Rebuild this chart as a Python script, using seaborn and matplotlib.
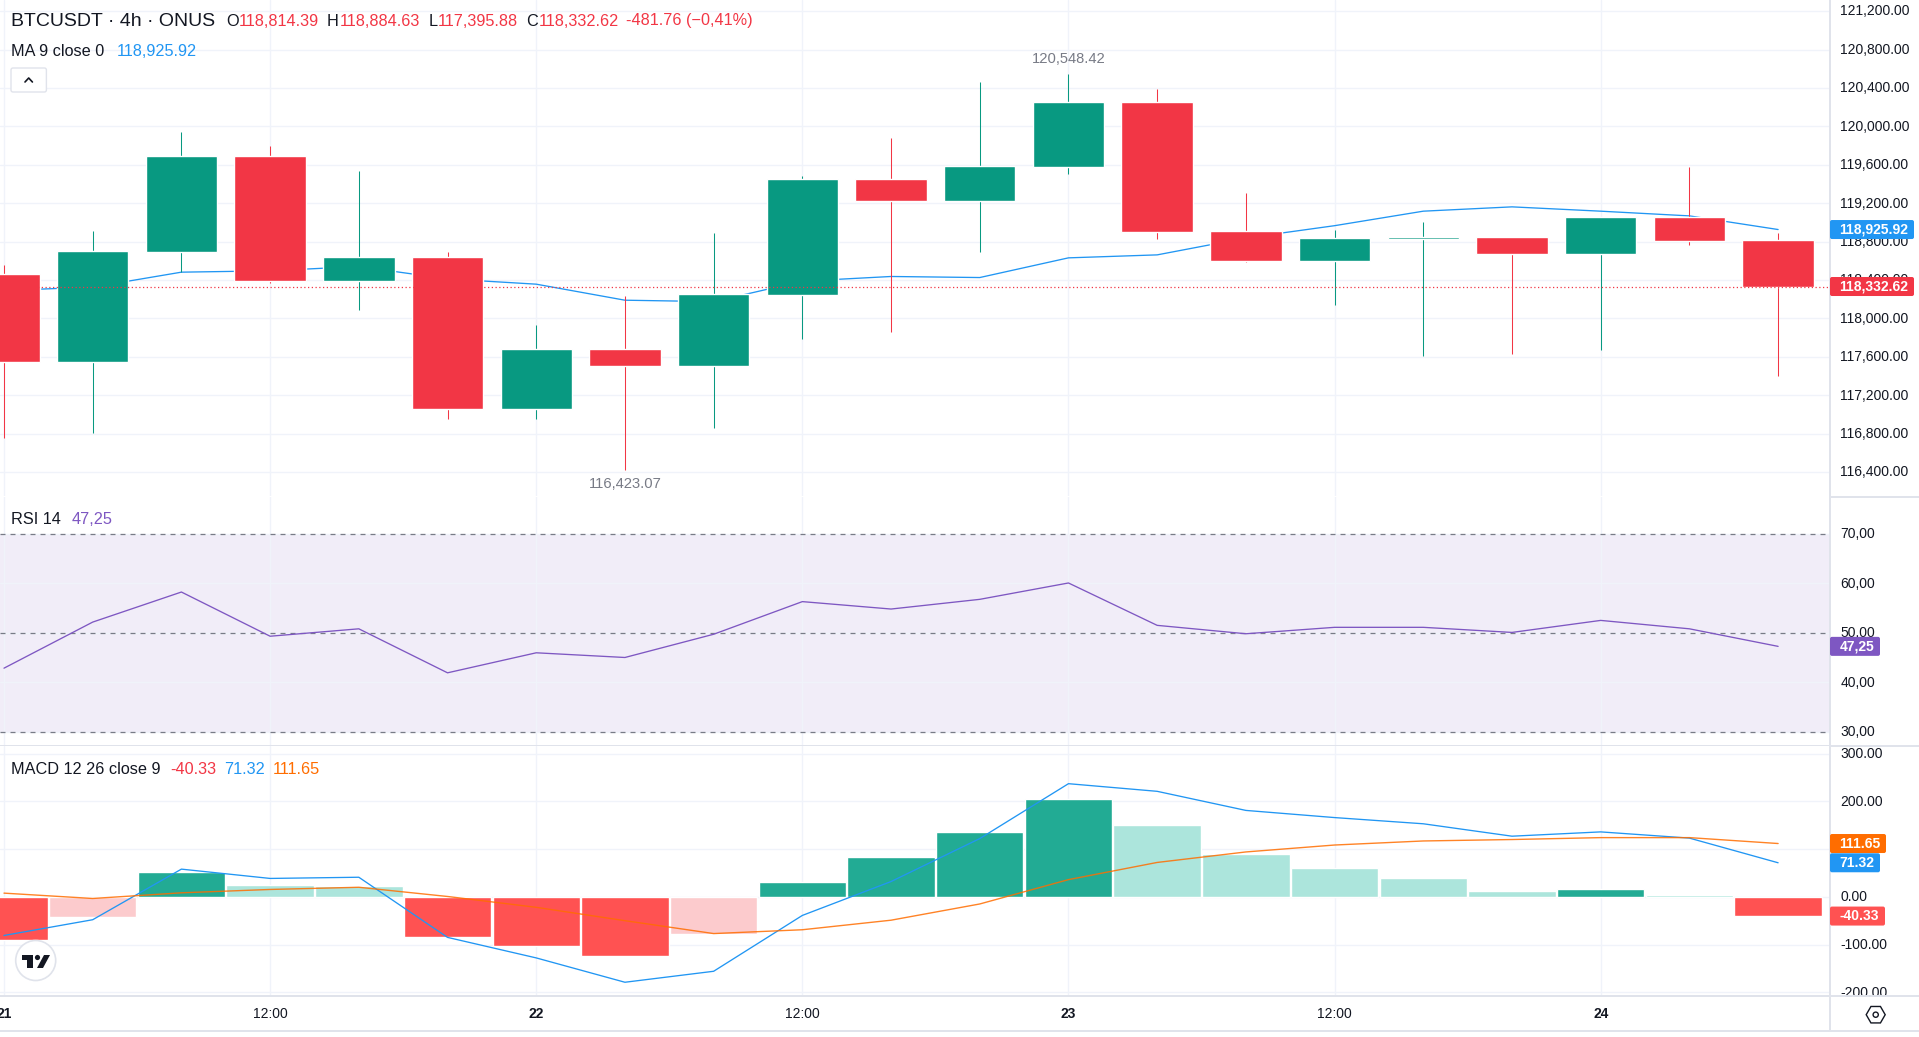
"""
BTCUSDT 4h chart with MA, RSI and MACD panels.
"""

import numpy as np
import seaborn as sns
import matplotlib
matplotlib.use('Agg')
import matplotlib.pyplot as plt
from matplotlib.patches import Circle, FancyBboxPatch, Polygon, Rectangle, RegularPolygon
from matplotlib.transforms import ScaledTranslation

# candles
opens = [118464, 117551, 118697, 119693, 118395, 118641, 117052, 117684, 117500, 118249, 119454,
         119218, 119582, 120256, 118912, 118603, 118826, 118850, 118673, 119058, 118814.39]
closes = [117551, 118704, 119693, 118395, 118641, 117052, 117684, 117500, 118256, 119454, 119218,
          119589, 120256, 118905, 118603, 118839, 118853, 118673, 119058, 118808, 118332.62]
highs = [118558, 118912, 119943, 119794, 119537, 118690, 117933, 118232, 118891, 119481, 119881,
         120464, 120548.42, 120391, 119308, 118923, 119006, 118850, 119058, 119579, 118884.63]
lows = [116760, 116812, 118482, 118374, 118083, 116958, 116958, 116423.07, 116857, 117791, 117854,
        118687, 119509, 118832, 118593, 118145, 117604, 117635, 117673, 118770, 117395.88]
ma_line = [118291, 118326, 118482, 118496, 118541, 118412, 118357, 118190, 118175, 118388, 118437,
           118426, 118631, 118662, 118838, 118966, 119117, 119162, 119117, 119068, 118925.92]

rsi_line = [42.84, 52.16, 58.24, 49.3, 50.8, 41.9, 45.95, 45.0, 49.7, 56.3, 54.8,
            56.76, 60.07, 51.5, 49.8, 51.1, 51.1, 50.07, 52.5, 50.8, 47.25]

macd_hist = [-89.6, -43, 51, 25.5, 23.5, -83.3, -104, -123, -78, 30.8, 83,
             135, 204, 150, 89, 59.5, 38.5, 11.9, 16, 2.8, -40.33]
macd_line = [-81, -48, 58, 38.5, 41, -85, -128, -179, -156, -39, 32,
             122, 237, 221, 181, 166, 153, 127, 136, 123, 71.32]
signal_line = [7.7, -3.5, 8.4, 15.4, 20, 0.7, -22, -50, -77, -69, -49,
               -15, 36, 72, 94, 108.5, 117, 120, 124, 124, 111.65]

time_ticks = [0, 3, 6, 9, 12, 15, 18]
time_labels = ['21', '12:00', '22', '12:00', '23', '12:00', '24']
day_labels = ['21', '22', '23', '24']

price_ticks = [116400, 116800, 117200, 117600, 118000, 118400, 118800,
               119200, 119600, 120000, 120400, 120800, 121200]
rsi_ticks = [30, 40, 50, 60, 70]
macd_ticks = [-200, -100, 0, 100, 200, 300]

GREEN = '#089981'
RED = '#F23645'
BLUE = '#2196F3'
PURPLE = '#7E57C2'
ORANGE = '#FF6D00'
INK = '#131722'
GRID = '#F0F3FA'
BORDER = '#E0E3EB'
GRAY = '#787B86'
W, H = 1919, 1037
FONT = 'Liberation Sans'

sns.set_theme(style='white')
plt.rcParams['font.family'] = [FONT, 'DejaVu Sans']

fig = plt.figure(figsize=(W / 100, H / 100), dpi=100, facecolor='white')


def panel(top, bottom, ylim, ticks, labels):
    ax = fig.add_axes([0, 1 - bottom / H, 1830 / W, (bottom - top) / H])
    ax.set_xlim(-0.045, 20.585)
    ax.set_ylim(*ylim)
    ax.yaxis.tick_right()
    ax.set_yticks(ticks, labels)
    ax.set_xticks(time_ticks)
    ax.tick_params(axis='both', length=0, labelsize=10, labelcolor=INK)
    ax.tick_params(axis='y', pad=7.3)
    ax.tick_params(axis='x', labelbottom=False)
    ax.grid(True, color=GRID, linewidth=1)
    ax.set_axisbelow(True)
    for side in ['top', 'left']:
        ax.spines[side].set_visible(False)
    for side in ['right', 'bottom']:
        ax.spines[side].set_color(BORDER)
        ax.spines[side].set_linewidth(1.4)
    # the labels sit a little above their grid lines
    lift = ScaledTranslation(0, 1.2 / 100, fig.dpi_scale_trans)
    for lab in ax.get_yticklabels():
        lab.set_transform(lab.get_transform() + lift)
    return ax


ax1 = panel(0, 496.5, (116146, 121316), price_ticks, ['{0:,.2f}'.format(v) for v in price_ticks])
ax2 = panel(496.5, 745.5, (27.2, 77.56), rsi_ticks, ['{0:.2f}'.format(v).replace('.', ',') for v in rsi_ticks])
ax3 = panel(745.5, 996, (-207.8, 317), macd_ticks, ['{0:.2f}'.format(v) for v in macd_ticks])

idx = np.arange(len(closes))

# price panel
sns.lineplot(x=idx, y=ma_line, ax=ax1, color=BLUE, linewidth=0.95, zorder=2)
colors = [GREEN if c >= o else RED for o, c in zip(opens, closes)]
ax1.vlines(idx, lows, highs, colors=colors, linewidth=0.75, zorder=3)
ax1.bar(idx, np.array(closes) - np.array(opens), bottom=opens, width=0.805, color=colors, zorder=4)
ax1.axhline(closes[-1], color=RED, linestyle=(0, (1, 2)), linewidth=0.9, zorder=5)
ax1.annotate('{0:,.2f}'.format(min(lows)), (int(np.argmin(lows)), min(lows)), xytext=(0, -7),
             textcoords='offset pixels', ha='center', va='top', color=GRAY, fontsize=10.6)
ax1.annotate('{0:,.2f}'.format(max(highs)), (int(np.argmax(highs)), max(highs)), xytext=(0, 8),
             textcoords='offset pixels', ha='center', va='bottom', color=GRAY, fontsize=10.6)

# rsi panel
ax2.axhspan(30, 70, color=PURPLE, alpha=0.1, linewidth=0, zorder=0.5)
for level in [30, 50, 70]:
    ax2.axhline(level, color=GRAY, linestyle=(0, (4, 4)), linewidth=0.9, zorder=2)
sns.lineplot(x=idx, y=rsi_line, ax=ax2, color=PURPLE, linewidth=0.95, zorder=3)

# macd panel
hist_colors = []
for i, v in enumerate(macd_hist):
    prev = macd_hist[i - 1] if i > 0 else v
    if v >= 0:
        hist_colors.append('#22AB94' if v >= prev else '#ACE5DC')
    else:
        hist_colors.append('#FF5252' if v <= prev else '#FCCBCD')
ax3.bar(idx, macd_hist, width=0.985, color=hist_colors, zorder=2)
sns.lineplot(x=idx, y=macd_line, ax=ax3, color=BLUE, linewidth=0.95, zorder=3)
sns.lineplot(x=idx, y=signal_line, ax=ax3, color=ORANGE, linewidth=1.0, alpha=0.85, zorder=4)

ax3.tick_params(axis='x', labelbottom=True, pad=8)
ax3.set_xticks(time_ticks, time_labels)
for lab in ax3.get_xticklabels():
    if lab.get_text() in day_labels:
        lab.set_fontweight('bold')

# overlay in pixels for legends, value tags and small icons
ov = fig.add_axes([0, 0, 1, 1], facecolor='none')
ov.set_xlim(0, W)
ov.set_ylim(H, 0)
ov.axis('off')


def label(x, y, text, color=INK, size=11.7, **kw):
    ov.text(x, y, text, color=color, fontsize=size, va='center', ha='left', **kw)


def tag(ax, value, text, color, width):
    y = H - ax.transData.transform((0, value))[1]
    ov.add_patch(FancyBboxPatch((1830, y - 9.5), width, 19, boxstyle='round,pad=0,rounding_size=2',
                                facecolor=color, edgecolor='none', zorder=5))
    ov.text(1839.5, y, text, color='white', fontsize=10, fontweight='bold', va='center', ha='left', zorder=6)


label(11, 21, 'BTCUSDT · 4h · ONUS', size=14)
for x, letter, vx, val in [(226.5, 'O', 239, '118,814.39'), (327, 'H', 340, '118,884.63'),
                           (428.6, 'L', 438, '117,395.88'), (526.5, 'C', 539, '118,332.62')]:
    label(x, 21, letter)
    label(vx, 21, val, color=RED)
label(626.5, 21, '-481.76 (−0,41%)', color=RED)
label(11, 51.5, 'MA 9 close 0')
label(116.3, 51.5, '118,925.92', color=BLUE)
label(11, 519, 'RSI 14')
label(71.6, 519, '47,25', color=PURPLE)
label(11, 769, 'MACD 12 26 close 9')
label(170.5, 769, '-40.33', color=RED)
label(224, 769, '71.32', color=BLUE)
label(273, 769, '111.65', color=ORANGE)

# collapse button
ov.add_patch(FancyBboxPatch((11, 68), 35.4, 24, boxstyle='round,pad=0,rounding_size=2',
                            facecolor='white', edgecolor=BORDER, linewidth=1))
ov.plot([25, 28.7, 32.4], [82, 78, 82], color=INK, linewidth=1.2)

tag(ax1, ma_line[-1], '118,925.92', BLUE, 84)
tag(ax1, closes[-1], '118,332.62', RED, 84)
tag(ax2, rsi_line[-1], '47,25', PURPLE, 50)
tag(ax3, signal_line[-1], '111.65', ORANGE, 56)
tag(ax3, macd_line[-1], '71.32', BLUE, 50)
tag(ax3, macd_hist[-1], '-40.33', '#FF5252', 55)

# time axis frame
ov.plot([1830, 1830], [996, 1031], color=BORDER, linewidth=1.4)
ov.plot([0, W], [1031, 1031], color=BORDER, linewidth=1.4)
ov.plot([1830, W], [496.5, 496.5], color=BORDER, linewidth=1.4)
ov.plot([1830, W], [745.5, 745.5], color=BORDER, linewidth=1.4)
ov.plot([1830, W], [996, 996], color=BORDER, linewidth=1.4)

# settings icon
ov.add_patch(RegularPolygon((1875.7, 1014.7), 6, radius=9.5, orientation=np.pi / 6,
                            facecolor='white', edgecolor=INK, linewidth=1))
ov.add_patch(Circle((1875.7, 1014.7), 2.6, facecolor='white', edgecolor=INK, linewidth=1))

# logo
ov.add_patch(Circle((35.7, 960.5), 20, facecolor='white', edgecolor=BORDER, linewidth=1.2, zorder=5))
ov.add_patch(Rectangle((21.5, 955), 11.5, 5, facecolor=INK, edgecolor='none', zorder=6))
ov.add_patch(Rectangle((27, 955), 6, 13, facecolor=INK, edgecolor='none', zorder=6))
ov.add_patch(Circle((37.5, 957.5), 2.6, facecolor=INK, edgecolor='none', zorder=6))
ov.add_patch(Polygon([(44, 955), (50, 955), (43, 968), (37, 968)], facecolor=INK, edgecolor='none', zorder=6))

fig.savefig('out.png', dpi=100)
